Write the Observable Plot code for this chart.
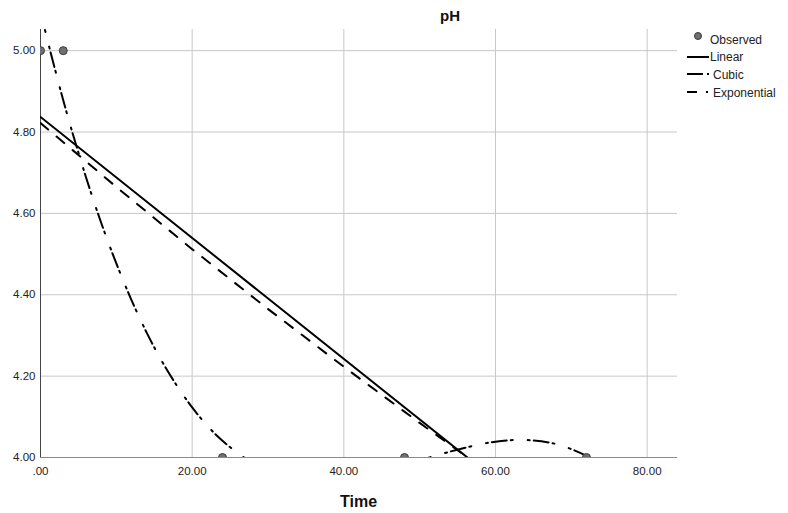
<!DOCTYPE html>
<html>
<head>
<meta charset="utf-8">
<script src="https://cdn.jsdelivr.net/npm/d3@7"></script>
<script src="https://cdn.jsdelivr.net/npm/@observablehq/plot@0.6"></script>
<style>
  html, body { margin: 0; padding: 0; background: #fff; }
  #chart { width: 788px; height: 513px; }
</style>
</head>
<body>
<div id="chart"></div>
<script>
// ---- data ----
const xTicks = [0, 20, 40, 60, 80];
const yTicks = [4.0, 4.2, 4.4, 4.6, 4.8, 5.0];

const obsTime = [0, 3, 24, 48, 72];
const obsPH   = [5.0, 5.0, 4.0, 4.0, 4.0];

const linTime = [0, 60];
const linPH   = [4.837, 3.945];

const expTime = [0, 10, 20, 30, 40, 50, 60];
const expPH   = [4.822, 4.665, 4.512, 4.365, 4.223, 4.085, 3.951];

const cubTime = [0, 1, 2, 3, 4, 6, 8, 10, 12, 14, 16, 18, 20, 22, 24, 27, 30, 36, 42, 48, 52, 56, 60, 64, 68, 72, 74];
const cubPH   = [5.096, 5.020, 4.948, 4.878, 4.812, 4.689, 4.577, 4.477, 4.387, 4.307, 4.237, 4.176, 4.123, 4.078, 4.041, 3.998, 3.968, 3.944, 3.952, 3.981, 4.004, 4.024, 4.039, 4.043, 4.033, 4.004, 3.981];

const legendLabels = ["Observed", "Linear", "Cubic", "Exponential"];

// ---- tables built from the arrays ----
const obs = obsTime.map((t, i) => ({t, v: obsPH[i]}));
const lin = linTime.map((t, i) => ({t, v: linPH[i]}));
const ex  = expTime.map((t, i) => ({t, v: expPH[i]}));
const cub = cubTime.map((t, i) => ({t, v: cubPH[i]}));

const cubicDash = "15,4,2,15,2,4";
const expDash = "10,11";
const font = "'Liberation Sans', Arial, sans-serif";

const W = 788, H = 513;
const chart = Plot.plot({
  width: W,
  height: H,
  marginLeft: 40,
  marginRight: 111,
  marginTop: 29,
  marginBottom: 56,
  style: {fontFamily: font, fontSize: "11.5px", color: "#222", background: "#fff"},
  x: {domain: [0, 84], ticks: xTicks, tickSize: 0, tickPadding: 9,
      tickFormat: d => d === 0 ? ".00" : d.toFixed(2), label: null},
  y: {domain: [4.0, 5.052], ticks: yTicks, tickSize: 0, tickPadding: 5,
      tickFormat: d => d.toFixed(2), label: null},
  marks: [
    Plot.ruleX(xTicks.filter(d => d > 0), {stroke: "#c8c8c8", strokeWidth: 1}),
    Plot.ruleY(yTicks.filter(d => d > 4), {stroke: "#c8c8c8", strokeWidth: 1}),
    Plot.ruleY([4.0], {stroke: "#8a8a8a", strokeWidth: 1}),
    Plot.ruleX([0], {stroke: "#444", strokeWidth: 1}),
    Plot.line(ex, {x: "t", y: "v", stroke: "#000", strokeWidth: 2, strokeDasharray: expDash, clip: true}),
    Plot.line(lin, {x: "t", y: "v", stroke: "#000", strokeWidth: 2, clip: true}),
    Plot.line(cub, {x: "t", y: "v", stroke: "#000", strokeWidth: 2, strokeDasharray: cubicDash, curve: "catmull-rom", clip: true}),
    Plot.dot(obs, {x: "t", y: "v", r: 4, fill: "#707070", stroke: "#3a3a3a", strokeWidth: 1, clip: true})
  ]
});
document.getElementById("chart").appendChild(chart);

// ---- title, axis title and legend (layout elements) ----
const svg = d3.select(chart.tagName.toLowerCase() === "svg" ? chart : chart.querySelector("svg"));

svg.append("text")
  .attr("x", 450).attr("y", 21)
  .attr("text-anchor", "middle")
  .style("font-family", font).style("font-size", "15px").style("font-weight", "bold").style("fill", "#111")
  .text("pH");

svg.append("text")
  .attr("x", 358.5).attr("y", 507)
  .attr("text-anchor", "middle")
  .style("font-family", font).style("font-size", "16px").style("font-weight", "bold").style("fill", "#111")
  .text("Time");

const lg = svg.append("g")
  .attr("text-anchor", "start")
  .style("text-anchor", "start")
  .style("font-family", font).style("font-size", "12px").style("fill", "#222");
const rowsY = [40, 57, 75, 93];
// Observed
lg.append("circle").attr("cx", 698).attr("cy", 36).attr("r", 3.5).attr("fill", "#707070").attr("stroke", "#3a3a3a");
lg.append("text").attr("x", 710).attr("y", rowsY[0] + 4).attr("text-anchor", "start").text(legendLabels[0]);
// Linear
lg.append("line").attr("x1", 687).attr("x2", 709).attr("y1", 57).attr("y2", 57).attr("stroke", "#000").attr("stroke-width", 2);
lg.append("text").attr("x", 710).attr("y", rowsY[1] + 4).attr("text-anchor", "start").text(legendLabels[1]);
// Cubic
lg.append("line").attr("x1", 687).attr("x2", 711).attr("y1", 74).attr("y2", 74).attr("stroke", "#000").attr("stroke-width", 2).attr("stroke-dasharray", "16,4,2,15");
lg.append("text").attr("x", 713).attr("y", rowsY[2] + 4).attr("text-anchor", "start").text(legendLabels[2]);
// Exponential
lg.append("line").attr("x1", 687).attr("x2", 709).attr("y1", 92).attr("y2", 92).attr("stroke", "#000").attr("stroke-width", 2).attr("stroke-dasharray", "10,9,2,20");
lg.append("text").attr("x", 713).attr("y", rowsY[3] + 4).attr("text-anchor", "start").text(legendLabels[3]);
</script>
</body>
</html>
